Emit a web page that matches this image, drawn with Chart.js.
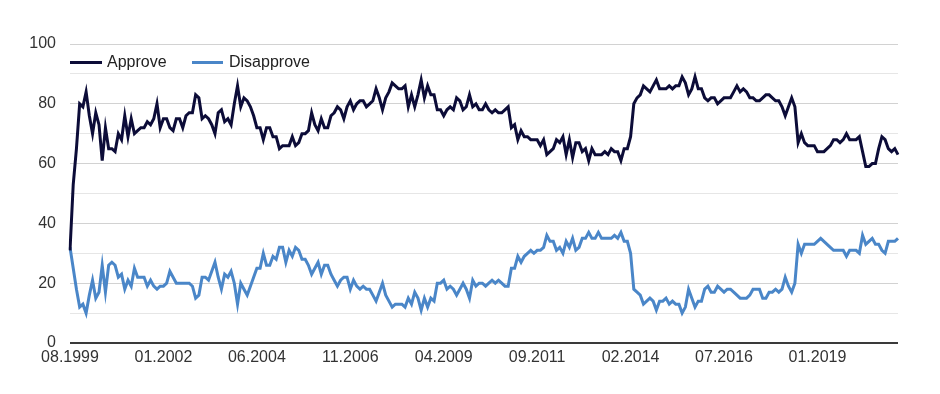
<!DOCTYPE html>
<html>
<head>
<meta charset="utf-8">
<script src="https://cdn.jsdelivr.net/npm/chart.js@4/dist/chart.umd.min.js"></script>
<style>
    html, body { margin: 0; padding: 0; background: #fff; }
    #wrap { position: relative; width: 940px; height: 394px; }
    .key { position: absolute; height: 3px; top: 61px; }
    .key-text { position: absolute; top: 52px; font: 16px "Liberation Sans", Arial, sans-serif; color: #222; line-height: 20px; }
</style>
</head>
<body>
<div id="wrap">
    <canvas id="approvalChart" width="940" height="394"></canvas>
    <div class="key" style="left:70px;width:32px;background:#0c0c38"></div>
    <div class="key-text" style="left:107px">Approve</div>
    <div class="key" style="left:192px;width:31px;background:#4a86c8"></div>
    <div class="key-text" style="left:229px">Disapprove</div>
</div>
<script>
// Serie mensual desde 08.1999 (falta un mes entre 2016 y 2019)
const startYear = 1999;
const startMonth = 8;
const missingMonths = ['01.2018'];
const labelEvery = 29;

const approve = [
    31, 53, 65, 80, 79, 84, 76, 70, 77, 73,
    61, 72, 65, 65, 64, 70, 68, 76, 69, 75,
    70, 71, 72, 72, 74, 73, 75, 80, 72, 75,
    75, 72, 71, 75, 75, 72, 76, 77, 77, 83,
    82, 75, 76, 75, 73, 70, 77, 78, 74, 75,
    73, 80, 86, 79, 82, 81, 79, 76, 72, 72,
    68, 72, 72, 69, 69, 65, 66, 66, 66, 69,
    66, 67, 70, 70, 71, 77, 73, 71, 75, 72,
    72, 76, 77, 79, 78, 75, 79, 81, 78, 80,
    81, 81, 79, 80, 81, 85, 82, 78, 82, 84,
    87, 86, 85, 85, 86, 79, 83, 79, 83, 88,
    82, 86, 83, 83, 78, 78, 76, 78, 79, 78,
    82, 81, 78, 79, 83, 79, 80, 78, 78, 80,
    78, 77, 78, 77, 77, 78, 79, 72, 73, 68,
    71, 69, 69, 68, 68, 68, 66, 68, 63, 64,
    65, 68, 67, 69, 63, 68, 62, 67, 67, 64,
    65, 61, 65, 63, 63, 63, 64, 63, 65, 64,
    64, 61, 65, 65, 69, 80, 82, 83, 86, 85,
    84, 86, 88, 85, 85, 85, 86, 85, 86, 86,
    89, 87, 83, 85, 89, 85, 85, 82, 81, 82,
    82, 80, 81, 82, 82, 82, 84, 86, 84, 85,
    84, 82, 82, 81, 81, 82, 83, 83, 82, 81,
    81, 79, 76, 79, 82, 79, 67, 70, 67, 66,
    66, 66, 64, 64, 64, 65, 66, 68, 68, 67,
    68, 70, 68, 68, 68, 69, 64, 59, 59, 60,
    60, 65, 69, 68, 65, 64, 65, 63
];

const disapprove = [
    32, 25, 18, 12, 13, 10, 16, 21, 15, 17,
    26, 17, 26, 27, 26, 22, 23, 18, 21, 19,
    25, 22, 22, 22, 19, 21, 19, 18, 19, 19,
    20, 24, 22, 20, 20, 20, 20, 20, 19, 15,
    16, 22, 22, 21, 24, 27, 22, 18, 23, 22,
    24, 20, 13, 20, 18, 16, 19, 22, 25, 25,
    30, 26, 26, 29, 28, 32, 32, 27, 31, 29,
    32, 31, 28, 28, 26, 23, 25, 27, 23, 26,
    26, 23, 21, 19, 21, 22, 22, 18, 21, 19,
    18, 19, 18, 18, 16, 14, 17, 20, 16, 14,
    12, 13, 13, 13, 12, 15, 13, 17, 15, 11,
    15, 12, 15, 14, 20, 20, 21, 18, 19, 18,
    16, 18, 20, 18, 15, 21, 19, 20, 20, 19,
    20, 21, 20, 21, 20, 19, 19, 25, 25, 29,
    27, 29, 30, 31, 30, 31, 31, 32, 36, 34,
    34, 31, 32, 30, 34, 32, 35, 31, 32, 35,
    35, 37, 35, 35, 37, 35, 35, 35, 35, 36,
    35, 37, 34, 34, 30, 18, 17, 16, 13, 14,
    15, 14, 11, 14, 14, 15, 13, 14, 13, 13,
    10, 12, 18, 15, 12, 14, 14, 18, 19, 17,
    17, 19, 18, 17, 18, 18, 17, 16, 15, 15,
    15, 16, 18, 18, 18, 15, 15, 17, 17, 18,
    17, 18, 22, 19, 17, 20, 33, 30, 33, 33,
    33, 33, 34, 35, 34, 33, 32, 31, 31, 31,
    31, 29, 31, 31, 31, 30, 36, 33, 34, 35,
    33, 33, 31, 30, 34, 34, 34, 35
];

function buildMonthLabels(count) {
    const labels = [];
    let y = startYear, m = startMonth;
    while (labels.length < count) {
        const label = String(m).padStart(2, '0') + '.' + y;
        if (!missingMonths.includes(label)) labels.push(label);
        m++;
        if (m > 12) { m = 1; y++; }
    }
    return labels;
}

const labels = buildMonthLabels(approve.length);
const fontFamily = '"Liberation Sans", Arial, sans-serif';

new Chart(document.getElementById('approvalChart'), {
    type: 'line',
    data: {
        labels: labels,
        datasets: [
            {
                label: 'Approve',
                data: approve,
                borderColor: '#0c0c38',
                borderWidth: 3,
                pointRadius: 0,
                tension: 0,
                fill: false
            },
            {
                label: 'Disapprove',
                data: disapprove,
                borderColor: '#4a86c8',
                borderWidth: 3,
                pointRadius: 0,
                tension: 0,
                fill: false
            }
        ]
    },
    options: {
        responsive: false,
        animation: false,
        devicePixelRatio: 1,
        layout: {
            padding: { top: 44, right: 42, left: 0, bottom: 0 }
        },
        plugins: {
            legend: { display: false },
            tooltip: { enabled: false }
        },
        scales: {
            x: {
                afterFit: function(scale) { scale.height = 51; },
                border: { display: false },
                grid: { display: false, drawTicks: false },
                ticks: {
                    autoSkip: false,
                    maxRotation: 0,
                    minRotation: 0,
                    padding: 5,
                    color: '#333',
                    font: { family: fontFamily, size: 16 },
                    callback: function(value, index) {
                        return index % labelEvery === 0 ? this.getLabelForValue(value) : null;
                    }
                }
            },
            y: {
                min: 0,
                max: 100,
                afterFit: function(scale) { scale.width = 70; },
                border: { display: false },
                grid: {
                    drawTicks: false,
                    color: function(ctx) {
                        const v = ctx.tick.value;
                        if (v === 0) return '#3a3a3a';
                        return v % 20 === 0 ? '#d2d2d2' : '#e6e6e6';
                    },
                    lineWidth: function(ctx) {
                        return ctx.tick.value === 0 ? 2 : 1;
                    }
                },
                ticks: {
                    stepSize: 10,
                    padding: 14,
                    color: '#333',
                    font: { family: fontFamily, size: 16 },
                    callback: function(value) {
                        return value % 20 === 0 ? value : '';
                    }
                }
            }
        }
    }
});
</script>
</body>
</html>
